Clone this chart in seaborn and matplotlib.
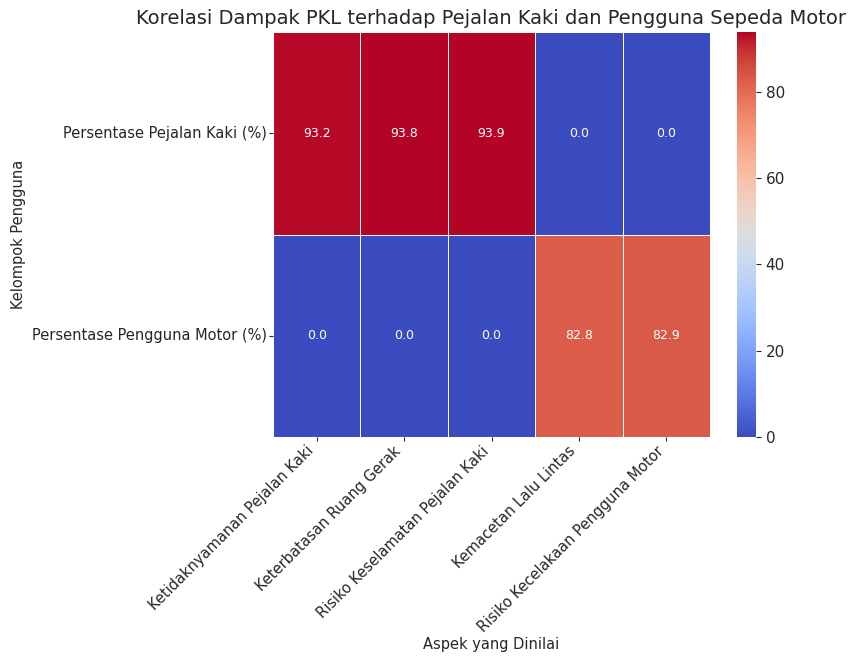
import matplotlib
matplotlib.use("Agg")
import matplotlib.pyplot as plt
import seaborn as sns
import pandas as pd

# data
aspek = ["Ketidaknyamanan Pejalan Kaki", "Keterbatasan Ruang Gerak",
         "Risiko Keselamatan Pejalan Kaki", "Kemacetan Lalu Lintas",
         "Risiko Kecelakaan Pengguna Motor"]
kelompok = ["Persentase Pejalan Kaki (%)", "Persentase Pengguna Motor (%)"]
pejalan_kaki = [93.2, 93.8, 93.9, 0.0, 0.0]
pengguna_motor = [0.0, 0.0, 0.0, 82.8, 82.9]

df = pd.DataFrame([pejalan_kaki, pengguna_motor], index=kelompok, columns=aspek)

text_color = "#262626"
plt.rcParams.update({
    "text.color": text_color,
    "axes.labelcolor": text_color,
    "xtick.color": text_color,
    "ytick.color": text_color,
    "font.size": 10,
})

fig = plt.figure(figsize=(8.48, 6.57), dpi=100)
ax = fig.add_axes([273 / 848, 1 - 437 / 657, 437 / 848, 405 / 657])
cax = fig.add_axes([737 / 848, 1 - 437 / 657, 19 / 848, 405 / 657])

sns.heatmap(df, annot=True, fmt=".1f", cmap="coolwarm", linewidths=0.6,
            linecolor="white", ax=ax, cbar_ax=cax,
            annot_kws={"fontsize": 9, "color": "white"})

ax.set_title("Korelasi Dampak PKL terhadap Pejalan Kaki dan Pengguna Sepeda Motor",
             fontsize=14, pad=6)
ax.set_xlabel("Aspek yang Dinilai", fontsize=10.5, labelpad=2)
ax.set_ylabel("Kelompok Pengguna", fontsize=10.5, labelpad=4)
ax.tick_params(axis="both", pad=1.5, length=3)
plt.setp(ax.get_xticklabels(), rotation=45, ha="right", fontsize=10.5)
plt.setp(ax.get_yticklabels(), rotation=0, fontsize=10.5)
cax.tick_params(labelsize=11)

fig.savefig("out.png", dpi=100)
